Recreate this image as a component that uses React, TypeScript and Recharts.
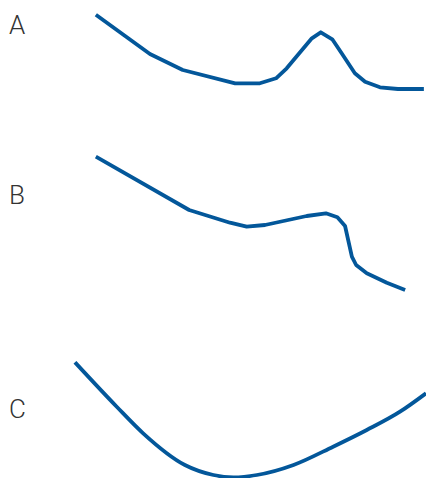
import React from "react";
import { LineChart, Line, XAxis, YAxis } from "recharts";

// x in 0–100 units, y in arbitrary value units per panel
const seriesA = [
  { x: 22.5, y: 125.3 },
  { x: 35.2, y: 86 },
  { x: 42.9, y: 70 },
  { x: 55.2, y: 56.7 },
  { x: 61.0, y: 56.7 },
  { x: 64.8, y: 61.7 },
  { x: 67.3, y: 71.7 },
  { x: 73.2, y: 101.7 },
  { x: 75.3, y: 107.7 },
  { x: 78.0, y: 100.7 },
  { x: 80.2, y: 86.7 },
  { x: 83.3, y: 66.7 },
  { x: 85.7, y: 58.3 },
  { x: 89.2, y: 52.7 },
  { x: 93.4, y: 51 },
  { x: 99.5, y: 51 },
];

const seriesB = [
  { x: 22.5, y: 153.3 },
  { x: 44.4, y: 100 },
  { x: 54.0, y: 87.3 },
  { x: 57.9, y: 83.3 },
  { x: 62.2, y: 85 },
  { x: 72.0, y: 94 },
  { x: 76.5, y: 96.7 },
  { x: 79.2, y: 92.7 },
  { x: 81.0, y: 84 },
  { x: 82.6, y: 53.3 },
  { x: 83.6, y: 45 },
  { x: 86.1, y: 36.7 },
  { x: 90.8, y: 27.3 },
  { x: 95.1, y: 20 },
];

const seriesC = [
  { x: 17.6, y: 115.7 },
  { x: 27.4, y: 71.3 },
  { x: 33.6, y: 44.7 },
  { x: 43.4, y: 13 },
  { x: 50.1, y: 3 },
  { x: 54.8, y: 0.7 },
  { x: 60.3, y: 3 },
  { x: 68.9, y: 13 },
  { x: 78.2, y: 31.3 },
  { x: 86.1, y: 48 },
  { x: 93.9, y: 66.3 },
  { x: 100, y: 84.7 },
];

const labels = ["A", "B", "C"];

const COLOR = "#03579a";
const W = 426;

type Panel = { data: { x: number; y: number }[]; top: number; height: number; type: "linear" | "monotone" };

const panels: Panel[] = [
  { data: seriesA, top: 0, height: 140, type: "linear" },
  { data: seriesB, top: 140, height: 170, type: "linear" },
  { data: seriesC, top: 310, height: 168, type: "monotone" },
];

const labelBaselines = [34, 204, 418];

export default function App() {
  return (
    <div style={{ position: "absolute", left: 0, top: 0, width: W, height: 478, background: "#fff", overflow: "hidden" }}>
      {panels.map((p, i) => (
        <div key={i} style={{ position: "absolute", left: 0, top: p.top }}>
          <LineChart width={W} height={p.height} data={p.data} margin={{ top: 0, right: 0, bottom: 0, left: 0 }}>
            <XAxis type="number" dataKey="x" domain={[0, 100]} hide />
            <YAxis type="number" domain={[0, p.height]} hide />
            <Line
              type={p.type}
              dataKey="y"
              stroke={COLOR}
              strokeWidth={3.8}
              strokeLinejoin="round"
              dot={false}
              activeDot={false}
              isAnimationActive={false}
            />
          </LineChart>
        </div>
      ))}
      <svg width={W} height={478} style={{ position: "absolute", left: 0, top: 0, pointerEvents: "none" }}>
        {labels.map((l, i) => (
          <text
            key={l}
            x={9}
            y={labelBaselines[i]}
            fontFamily="Roboto"
            fontWeight={300}
            fontSize={26}
            fill="#333"
          >
            {l}
          </text>
        ))}
      </svg>
    </div>
  );
}
